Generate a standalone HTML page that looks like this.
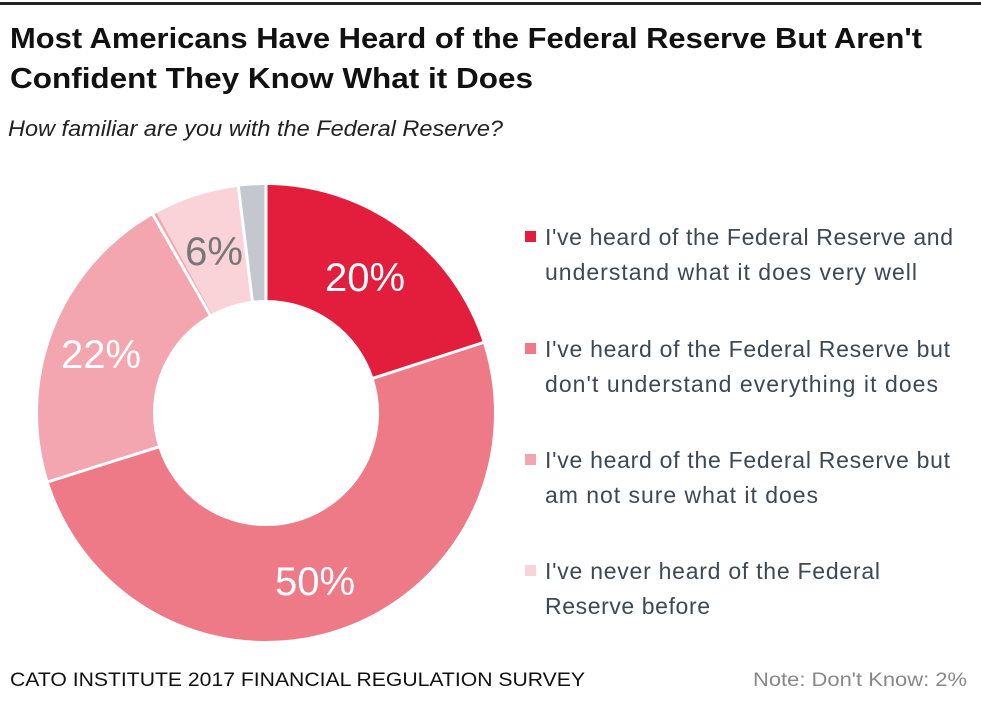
<!DOCTYPE html>
<html><head><meta charset="utf-8"><style>body{margin:0;background:#fff}svg{display:block}</style></head>
<body>
<svg width="981" height="709" xmlns="http://www.w3.org/2000/svg" font-family="Liberation Sans, sans-serif">
<rect x="0" y="2" width="981" height="3" fill="#222"/>
<text x="10" y="48" font-size="29" font-weight="bold" fill="#111" textLength="912" lengthAdjust="spacingAndGlyphs">Most Americans Have Heard of the Federal Reserve But Aren't</text>
<text x="10" y="88" font-size="29" font-weight="bold" fill="#111" textLength="523" lengthAdjust="spacingAndGlyphs">Confident They Know What it Does</text>
<text x="8" y="136" font-size="22" font-style="italic" fill="#222" textLength="495" lengthAdjust="spacingAndGlyphs">How familiar are you with the Federal Reserve?</text>
<g transform="rotate(-90 266 413)" fill="none" stroke-width="115">
<circle cx="266" cy="413" r="170.5" stroke="#e31d3c" stroke-dasharray="214.3 2000" stroke-dashoffset="0"/>
<circle cx="266" cy="413" r="170.5" stroke="#ee7a87" stroke-dasharray="535.7 2000" stroke-dashoffset="-214.3"/>
<circle cx="266" cy="413" r="170.5" stroke="#f4a6b0" stroke-dasharray="235.7 2000" stroke-dashoffset="-750"/>
<circle cx="266" cy="413" r="170.5" stroke="#f9d3d8" stroke-dasharray="64.3 2000" stroke-dashoffset="-985.7"/>
<circle cx="266" cy="413" r="170.5" stroke="#c4c8ce" stroke-dasharray="21.4 2000" stroke-dashoffset="-1050"/>
</g>
<g stroke="#fff" stroke-width="3">
<line x1="266" y1="413" x2="266" y2="180"/>
<line x1="266" y1="413" x2="488" y2="341"/>
<line x1="266" y1="413" x2="38" y2="485"/>
<line x1="266" y1="413" x2="152" y2="213"/>
<line x1="266" y1="413" x2="238" y2="184"/>
</g>
<text x="365" y="291" font-size="40" fill="#fff" text-anchor="middle">20%</text>
<text x="315" y="595" font-size="40" fill="#fff" text-anchor="middle">50%</text>
<text x="101" y="368" font-size="40" fill="#fff" text-anchor="middle">22%</text>
<text x="214" y="265" font-size="40" fill="#777" text-anchor="middle">6%</text>
<g font-size="23" fill="#3d4852" lengthAdjust="spacingAndGlyphs">
<rect x="525" y="231" width="11" height="11" fill="#e31d3c"/>
<text x="545" y="245" textLength="408">I've heard of the Federal Reserve and</text>
<text x="545" y="280" textLength="372">understand what it does very well</text>
<rect x="525" y="343" width="11" height="11" fill="#ee7a87"/>
<text x="545" y="357" textLength="405">I've heard of the Federal Reserve but</text>
<text x="545" y="392" textLength="393">don't understand everything it does</text>
<rect x="525" y="454" width="11" height="11" fill="#f4a6b0"/>
<text x="545" y="468" textLength="405">I've heard of the Federal Reserve but</text>
<text x="545" y="503" textLength="273">am not sure what it does</text>
<rect x="525" y="565" width="11" height="11" fill="#f9d3d8"/>
<text x="545" y="579" textLength="335">I've never heard of the Federal</text>
<text x="545" y="614" textLength="165">Reserve before</text>
</g>
<text x="10" y="686" font-size="19" fill="#111" textLength="575" lengthAdjust="spacingAndGlyphs">CATO INSTITUTE 2017 FINANCIAL REGULATION SURVEY</text>
<text x="753" y="686" font-size="19" fill="#888" textLength="214" lengthAdjust="spacingAndGlyphs">Note: Don't Know: 2%</text>
</svg>
</body></html>
